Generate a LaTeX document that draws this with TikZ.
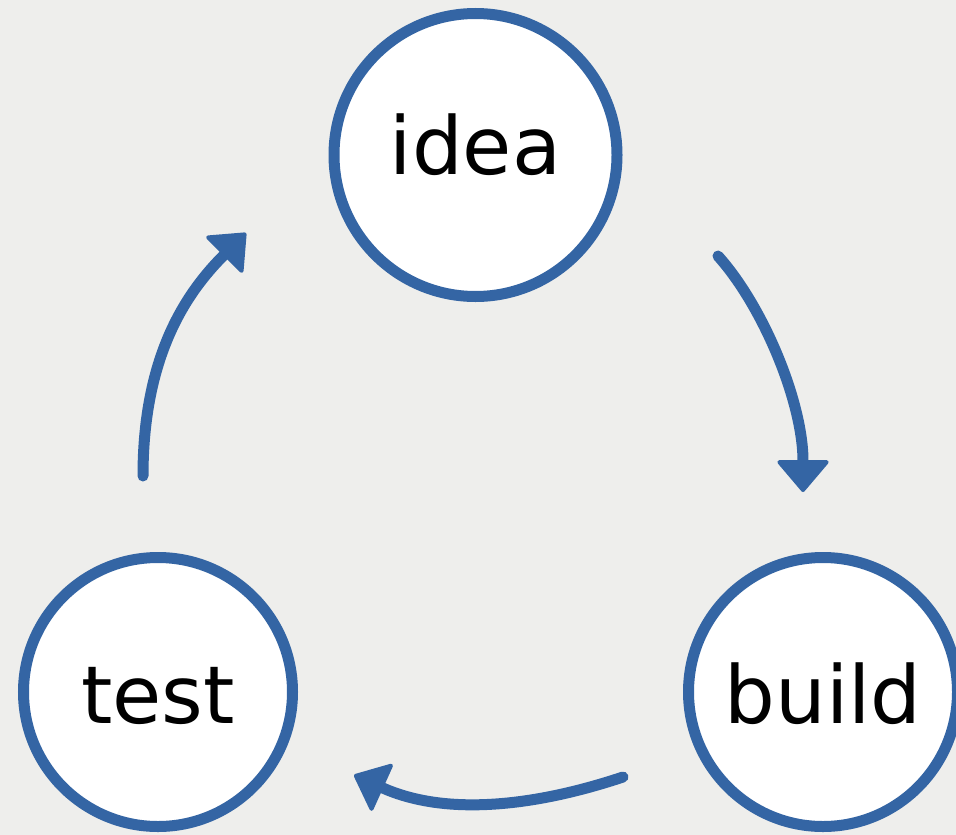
\documentclass[tikz,border=0pt]{standalone}
\usepackage{fontspec}
\setmainfont{DejaVu Sans}
\usetikzlibrary{arrows.meta}
\definecolor{bg}{HTML}{EEEEEC}
\definecolor{tblue}{HTML}{3465A4}
\begin{document}
\begin{tikzpicture}[x=1pt,y=-1pt,
  stage/.style={circle, draw=tblue, line width=11pt, fill=white, inner sep=0pt,
    font=\fontsize{80}{96}\selectfont},
  flow/.style={draw=tblue, line width=11pt, line cap=round,
    -{Triangle[width=55pt,length=33pt,round,line width=4pt]}}]
\fill[bg] (0,0) rectangle (956,835);
\useasboundingbox (0,0) rectangle (956,835);
\node[stage, minimum size=283pt, text height=61pt, text depth=23pt] (idea) at (475.5,155) {idea};
\node[stage, minimum size=269pt, text height=80pt, text depth=18pt] (test) at (158,692) {test};
\node[stage, minimum size=269pt, text height=80pt, text depth=18pt] (build) at (823,692) {build};
\coordinate (a1s) at (718,256);
\coordinate (a1e) at (803,492);
\coordinate (a2s) at (623,777);
\coordinate (a2e) at (354,775);
\coordinate (a3s) at (143,476);
\coordinate (a3e) at (246,233);
\draw[flow] (a1s) .. controls (763,306) and (803,402) .. (a1e);
\draw[flow] (a2s) .. controls (533,807) and (445,816) .. (a2e);
\draw[flow] (a3s) .. controls (143,356) and (186,293) .. (a3e);
\end{tikzpicture}
\end{document}
